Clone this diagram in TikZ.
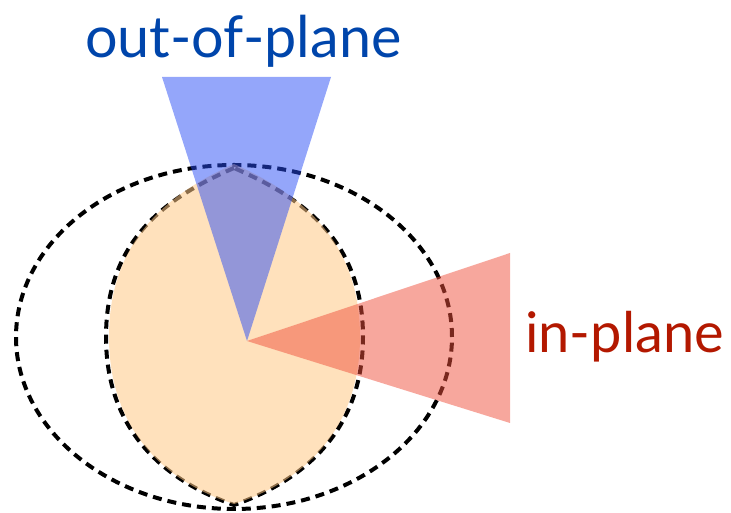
\documentclass[tikz,border=0pt]{standalone}
\usepackage{fontspec}
\setmainfont{Lato}
\definecolor{lensorange}{RGB}{255,200,133}
\definecolor{beamblue}{RGB}{41,77,245}
\definecolor{beamred}{RGB}{240,80,60}
\definecolor{labelblue}{RGB}{0,69,171}
\definecolor{labelred}{RGB}{179,24,0}
\begin{document}
\begin{tikzpicture}[x=1pt,y=1pt,
  ring/.style={black, line width=4pt, dash pattern=on 9pt off 6pt},
  label/.style={inner sep=0pt, anchor=base west}]
  \useasboundingbox (0,0) rectangle (731,513);
  \coordinate (apex) at (247,172);
  % dashed shells
  \draw[ring] (234,176) ellipse [x radius=218, y radius=172];
  \draw[ring] (234,345) .. controls (170,317) and (106,276) .. (106,176)
                        .. controls (106,86) and (160,34) .. (234,8)
                        .. controls (308,34) and (363,86) .. (363,176)
                        .. controls (363,276) and (298,317) .. cycle;
  % lens
  \fill[lensorange, opacity=0.55] (234,349) .. controls (172,321) and (109,276) .. (109,176)
                        .. controls (109,86) and (162,32) .. (234,9)
                        .. controls (306,32) and (360,86) .. (360,176)
                        .. controls (360,276) and (296,321) .. cycle;
  % beams
  \fill[beamblue, opacity=0.5] (apex) -- (162,436) -- (331,436) -- cycle;
  \fill[beamred, opacity=0.5] (apex) -- (510,260) -- (510,90) -- cycle;
  % labels
  \node[label, text=labelblue, font=\fontsize{57.5}{60}\selectfont] (outlabel) at (85,455) {out-of-plane};
  \node[label, text=labelred, font=\fontsize{56}{60}\selectfont] (inlabel) at (525,160) {in-plane};
\end{tikzpicture}
\end{document}
